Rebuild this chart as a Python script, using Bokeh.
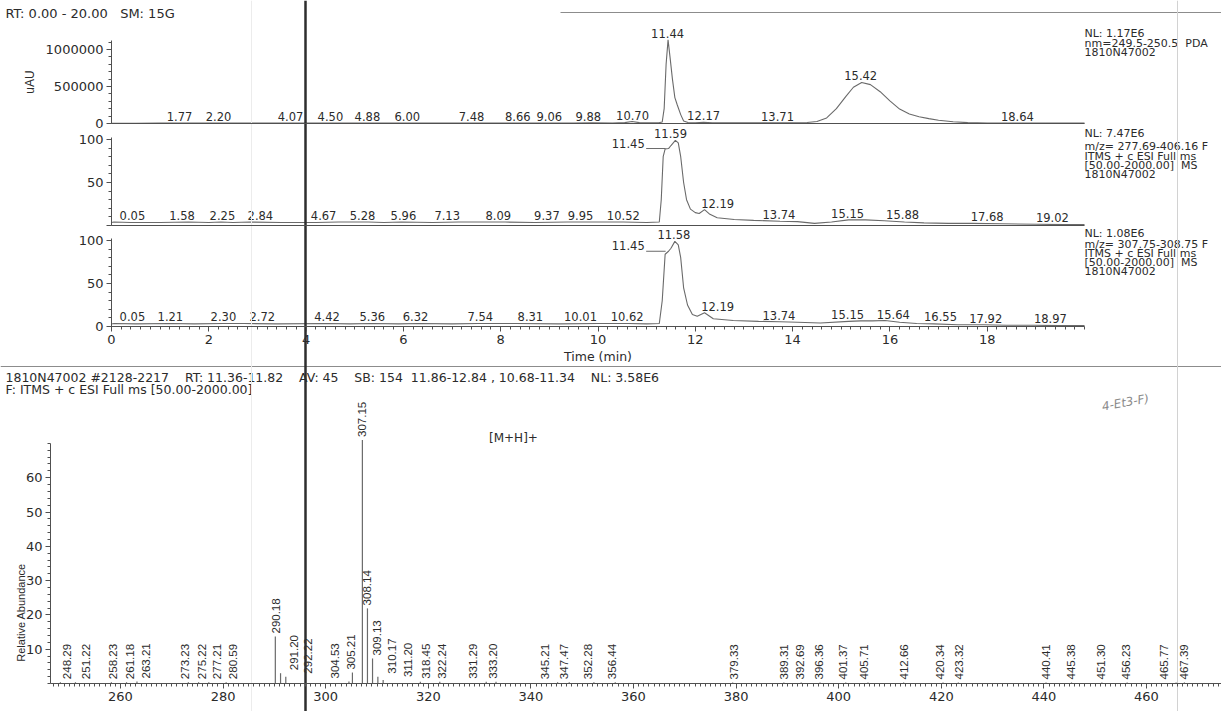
import numpy as np
from bokeh.plotting import figure
from bokeh.models import Range1d, FixedTicker, LinearAxis, ColumnDataSource
from bokeh.embed import file_html
from bokeh.resources import INLINE
from bokeh.core.properties import value

# ---------------------------------------------------------------- data
header_text = "RT: 0.00 - 20.00\u00a0\u00a0\u00a0SM: 15G"

# Panel 1 : PDA trace (uAU)
pda_t = [0.00, 0.50, 1.00, 1.50, 1.77, 2.00, 2.20, 2.60, 3.20, 3.70, 4.07, 4.30, 4.50, 4.70, 4.88,
         5.40, 6.00, 6.70, 7.48, 8.10, 8.66, 9.06, 9.50, 9.88, 10.30, 10.55, 10.70, 10.85, 11.05, 11.25,
         11.32, 11.36, 11.40, 11.44, 11.48, 11.53, 11.58, 11.63, 11.70, 11.76, 11.85, 12.00, 12.17, 12.35, 12.80,
         13.30, 13.71, 14.10, 14.30, 14.50, 14.70, 14.90, 15.10, 15.25, 15.42, 15.60, 15.80, 16.00, 16.20, 16.40,
         16.60, 16.80, 17.00, 17.30, 17.60, 18.00, 18.64, 19.20, 20.00]
pda_v = [4000, 4000, 4500, 5000, 7000, 5500, 7000, 5000, 4500, 4500, 6000, 5000, 6000, 5000, 6000,
         5000, 6000, 5000, 6000, 5500, 6500, 6500, 6000, 8000, 7000, 12000, 26000, 12000, 9000, 9000,
         20000, 200000, 800000, 1130000, 900000, 600000, 350000, 250000, 120000, 35000, 14000, 11000, 16000, 9000, 8000,
         8000, 10000, 10000, 14000, 28000, 75000, 200000, 370000, 490000, 555000, 525000, 430000, 305000, 195000, 128000,
         92000, 66000, 44000, 24000, 12000, 7000, 7000, 5000, 5000]
pda_peaks = [1.77, 2.20, 4.07, 4.50, 4.88, 6.00, 7.48, 8.66, 9.06, 9.88, 10.70, 11.44, 12.17, 13.71, 15.42, 18.64]
pda_label_at = [1.40, 2.20, 3.68, 4.50, 5.26, 6.08, 7.40, 8.35, 9.00, 9.80, 10.71, 11.43, 12.17, 13.69, 15.40, 18.62]
pda_notes = ["NL: 1.17E6", "nm=249.5-250.5\u00a0\u00a0PDA", "1810N47002"]

# Panel 2 : m/z 277.69-406.16 (relative)
tic_t = [0.00, 0.05, 0.40, 1.00, 1.58, 2.00, 2.25, 2.50, 2.84, 3.50, 4.20, 4.67, 5.28, 5.60, 5.96,
         6.60, 7.13, 8.09, 8.70, 9.37, 9.95, 10.52, 11.00, 11.26, 11.30, 11.34, 11.38, 11.45, 11.50, 11.59,
         11.65, 11.70, 11.76, 11.82, 11.90, 12.00, 12.08, 12.19, 12.30, 12.45, 12.80, 13.20, 13.74, 14.10, 14.45,
         14.80, 15.15, 15.50, 15.88, 16.30, 16.70, 17.20, 17.68, 18.30, 19.02, 19.60, 20.00]
tic_v = [3.5, 4.0, 3.5, 3.5, 4.0, 3.5, 4.0, 3.5, 4.0, 3.5, 3.5, 4.0, 4.0, 3.5, 4.0,
         3.5, 4.0, 4.0, 3.5, 4.0, 4.0, 4.0, 3.5, 4.0, 30.0, 80.0, 89.0, 89.5, 93.0, 99.0,
         96.0, 80.0, 50.0, 30.0, 19.0, 15.0, 14.0, 18.5, 13.0, 9.0, 7.0, 6.0, 5.0, 4.5, 2.5,
         4.0, 6.5, 6.5, 5.5, 4.0, 3.0, 2.5, 2.5, 2.0, 1.5, 1.0, 1.0]
tic_peaks = [0.05, 1.58, 2.25, 2.84, 4.67, 5.28, 5.96, 7.13, 8.09, 9.37, 9.95, 10.52, 11.59,
             12.19, 13.74, 15.15, 15.88, 17.68, 19.02]
tic_label_at = [0.43, 1.45, 2.28, 3.06, 4.36, 5.16, 6.00, 6.90, 7.95, 8.95, 9.64, 10.52, 11.49,
                12.46, 13.72, 15.13, 16.26, 18.00, 19.34]
tic_leader = [11.45]
tic_notes = ["NL: 7.47E6", "m/z= 277.69-406.16 F", "ITMS + c ESI Full ms",
             "[50.00-2000.00]\u00a0\u00a0MS", "1810N47002"]

# Panel 3 : m/z 307.75-308.75 (relative)
sim_t = [0.00, 0.05, 0.50, 1.21, 1.70, 2.30, 2.72, 3.40, 4.42, 4.90, 5.36, 5.90, 6.32, 7.00, 7.54,
         8.31, 9.20, 10.01, 10.62, 11.00, 11.26, 11.32, 11.38, 11.45, 11.50, 11.58, 11.65, 11.70, 11.76, 11.84,
         11.94, 12.04, 12.19, 12.37, 12.78, 13.30, 13.74, 14.10, 14.57, 15.15, 15.40, 15.64, 15.90, 16.20, 16.55,
         16.90, 17.40, 17.92, 18.40, 18.97, 19.50, 20.00]
sim_v = [3.0, 3.5, 3.0, 3.5, 3.0, 3.5, 3.5, 3.0, 3.5, 3.0, 3.5, 3.0, 3.5, 3.0, 3.5,
         3.5, 3.0, 3.5, 3.5, 3.0, 3.5, 30.0, 84.0, 87.5, 91.0, 99.0, 95.0, 80.0, 45.0, 25.0,
         14.0, 12.0, 16.0, 9.0, 7.0, 6.0, 5.5, 5.0, 4.0, 6.0, 6.5, 6.5, 7.0, 5.0, 3.5,
         3.0, 2.0, 2.0, 1.5, 1.5, 1.0, 1.0]
sim_peaks = [0.05, 1.21, 2.30, 2.72, 4.42, 5.36, 6.32, 7.54, 8.31, 10.01, 10.62, 11.58,
             12.19, 13.74, 15.15, 15.64, 16.55, 17.92, 18.97]
sim_label_at = [0.43, 1.21, 2.30, 3.10, 4.43, 5.36, 6.25, 7.58, 8.61, 9.64, 10.60, 11.56,
                12.46, 13.72, 15.13, 16.07, 17.04, 17.97, 19.30]
sim_leader = [11.45]
sim_notes = ["NL: 1.08E6", "m/z= 307.75-308.75 F", "ITMS + c ESI Full ms",
             "[50.00-2000.00]\u00a0\u00a0MS", "1810N47002"]

time_ticks = [0, 2, 4, 6, 8, 10, 12, 14, 16, 18]

# Mass spectrum
NB4 = "\u00a0" * 4
ms_header = ["1810N47002 #2128-2217" + NB4 + "RT: 11.36-11.82" + NB4 + "AV: 45" + NB4 + "SB: 154"
             + "\u00a0\u00a0" + "11.86-12.84 , 10.68-11.34" + NB4 + "NL: 3.58E6",
             "F: ITMS + c ESI Full ms [50.00-2000.00]"]
ms_mz = [248.29, 251.22, 258.23, 261.18, 263.21, 273.23, 275.22, 277.21, 280.59, 290.18, 291.20, 292.22,
         304.53, 305.21, 307.15, 308.14, 309.13, 310.17, 311.20, 318.45, 322.24, 331.29, 333.20, 345.21,
         347.47, 352.28, 356.44, 379.33, 389.31, 392.69, 396.36, 401.37, 405.71, 412.66, 420.34, 423.32,
         440.41, 445.38, 451.30, 456.23, 465.77, 467.39]
ms_int = [0.4, 0.4, 0.4, 0.4, 0.6, 0.4, 0.4, 0.4, 0.4, 13.7, 3.0, 2.0,
          0.6, 3.2, 71.0, 21.9, 7.3, 2.0, 1.0, 0.5, 0.5, 0.5, 0.5, 0.4,
          0.4, 0.4, 0.4, 0.3, 0.3, 0.3, 0.3, 0.3, 0.3, 0.3, 0.3, 0.3,
          0.3, 0.3, 0.3, 0.3, 0.3, 0.3]
ms_label_at = [249.6, 253.3, 258.5, 261.9, 265.0, 272.5, 275.8, 278.8, 282.0, 290.3, 293.8, 296.5,
               301.9, 305.0, 307.15, 308.14, 310.0, 313.0, 316.0, 319.6, 322.7, 328.8, 332.7, 342.7,
               346.5, 351.2, 355.8, 379.6, 389.3, 392.5, 396.2, 400.8, 404.9, 412.7, 419.8, 423.4,
               440.5, 445.3, 451.1, 456.0, 463.4, 467.4]
ms_annot = "[M+H]+"
ms_ylabel = "Relative Abundance"
hand_note = "4-Et3-F)"
ms_yticks = [10, 20, 30, 40, 50, 60]
ms_xticks = [260, 280, 300, 320, 340, 360, 380, 400, 420, 440, 460]

# ---------------------------------------------------------------- geometry (page px)
W, H = 1221, 711
FW = "DejaVu Sans"        # wide face: the scan is stretched horizontally
FR = "Liberation Sans"    # rotated texts
TXT = "#2b2b2b"
TRACE = "#6a6a6a"
AX = "#505050"

PXM, T_X0 = 48.65, 111            # px per minute, page x of t = 0
PXZ, MZ_X0 = 5.13, 120            # px per m/z, page x of m/z 260
P1_Y0, P1_S = 123, 74e-6          # page y of 0, px per uAU
P2_Y0, P3_Y0, PC_S = 225, 326, 0.86
MS_Y0, MS_S = 683, 3.43


def xr(x0, s, ref=0.0):
    start = ref - x0 / s
    return Range1d(start, start + W / s)


def yr(y0, s):
    return Range1d(-(H - y0) / s, y0 / s)


p = figure(width=W, height=H, x_range=Range1d(0, W), y_range=Range1d(H, 0),
           x_axis_location=None, y_axis_location=None, output_backend="svg",
           toolbar_location=None, min_border=0, title=None)
p.extra_x_ranges = {"t": xr(T_X0, PXM), "mz": xr(MZ_X0, PXZ, 260.0)}
p.extra_y_ranges = {"p1": yr(P1_Y0, P1_S), "p2": yr(P2_Y0, PC_S), "p3": yr(P3_Y0, PC_S),
                    "ms": yr(MS_Y0, MS_S)}
p.grid.visible = False
p.outline_line_color = None
p.background_fill_color = "white"
p.border_fill_color = "white"
MZ_LEFT = 260.0 - (MZ_X0 - 50) / PXZ


def axis(side, xname, yname, loc, ticks, minor, bounds, size="13px", out=5):
    ax = LinearAxis(x_range_name=xname, y_range_name=yname, fixed_location=loc,
                    ticker=FixedTicker(ticks=ticks, minor_ticks=minor), bounds=bounds)
    ax.axis_line_color = AX
    ax.major_tick_line_color = AX
    ax.minor_tick_line_color = AX
    ax.major_tick_in = 0
    ax.minor_tick_in = 0
    ax.major_tick_out = out
    ax.minor_tick_out = 3 if out else 0
    ax.major_label_standoff = 3
    ax.major_label_text_font = FW
    ax.major_label_text_font_size = size
    ax.major_label_text_color = TXT
    ax.axis_label_text_font = FR
    ax.axis_label_text_font_style = "normal"
    ax.axis_label_text_color = TXT
    p.add_layout(ax, side)
    return ax


# chromatogram axes
a = axis("left", "t", "p1", 0, [0, 500000, 1000000], list(range(0, 1100001, 100000)), (0, 1120000))
a.major_label_overrides = {0: "0", 500000: "500000", 1000000: "1000000"}
a.axis_label = "uAU"
a.axis_label_text_font_size = "12px"
a.axis_label_standoff = 6
axis("below", "t", "p1", 0, [], [], (0, 20), out=0)
a = axis("left", "t", "p2", 0, [0, 50, 100], list(range(0, 101, 10)), (0, 102))
a.major_label_overrides = {0: ""}
axis("below", "t", "p2", 0, [], [], (0, 20), out=0)
axis("left", "t", "p3", 0, [0, 50, 100], list(range(0, 101, 10)), (0, 102))
a = axis("below", "t", "p3", 0, time_ticks, [round(i * 0.2, 1) for i in range(101)], (0, 20))
a.axis_label = "Time (min)"
a.axis_label_text_font = FW
a.axis_label_text_font_size = "12.5px"
a.axis_label_standoff = 2

# mass-spectrum axes
axis("below", "mz", "ms", 0, ms_xticks, list(range(247, 475)), (MZ_LEFT, 474.6))
axis("left", "mz", "ms", MZ_LEFT, ms_yticks, list(range(0, 71, 2)), (0, 70))


def draw_trace(yname, t, v, peaks, label_at, leader):
    p.line(t, v, line_color=TRACE, line_width=1.1, x_range_name="t", y_range_name=yname)
    ly = list(np.interp(peaks, t, v))
    src = ColumnDataSource(dict(x=label_at, y=ly, text=["%.2f" % x for x in peaks]))
    p.text(x="x", y="y", text="text", source=src, text_font=value(FW), text_font_size="11.5px",
           text_align="center", text_baseline="bottom", y_offset=-2, text_color=TXT,
           x_range_name="t", y_range_name=yname)
    if leader:
        lv = list(np.interp(leader, t, v))
        p.segment(x0=[x - 0.46 for x in leader], y0=lv, x1=[x - 0.06 for x in leader], y1=lv,
                  line_color=TRACE, line_width=1, x_range_name="t", y_range_name=yname)
        p.text(x=[x - 0.49 for x in leader], y=lv, text=["%.2f" % x for x in leader],
               text_font=value(FW), text_font_size="11.5px", text_align="right",
               text_baseline="bottom", y_offset=-1, text_color=TXT,
               x_range_name="t", y_range_name=yname)


def notes(lines, ys, x=1084):
    p.text(x=[x] * len(lines), y=ys, text=lines, text_font=value(FW), text_font_size="11px",
           text_align="left", text_baseline="middle", text_color=TXT)


draw_trace("p1", pda_t, pda_v, pda_peaks, pda_label_at, [])
draw_trace("p2", tic_t, tic_v, tic_peaks, tic_label_at, tic_leader)
draw_trace("p3", sim_t, sim_v, sim_peaks, sim_label_at, sim_leader)
notes(pda_notes, [33, 43, 52])
notes(tic_notes, [133, 146, 156, 165, 174])
notes(sim_notes, [233, 244, 253, 262, 271])

p.text(x=[5], y=[13], text=[header_text], text_font=value(FW), text_font_size="13px",
       text_align="left", text_baseline="middle", text_color=TXT)
p.text(x=[5, 5], y=[377, 389], text=ms_header, text_font=value(FW), text_font_size="12.5px",
       text_align="left", text_baseline="middle", text_color=TXT)

# mass spectrum sticks and labels
msrc = ColumnDataSource(dict(x=ms_mz, y=ms_int, y0=[0] * len(ms_mz), lx=ms_label_at,
                             text=["%.2f" % m for m in ms_mz]))
p.segment(x0="x", y0="y0", x1="x", y1="y", source=msrc, line_color=TRACE, line_width=1.2,
          x_range_name="mz", y_range_name="ms")
p.text(x="lx", y="y", text="text", source=msrc, angle=np.pi / 2, text_align="left",
       text_baseline="middle", y_offset=-3, text_font=value(FR), text_font_size="11.5px",
       text_color=TXT, x_range_name="mz", y_range_name="ms")
p.text(x=[336.6], y=[71.7], text=[ms_annot], text_font=value(FW), text_font_size="12px",
       text_align="center", text_baseline="middle", text_color=TXT,
       x_range_name="mz", y_range_name="ms")
p.text(x=[20], y=[612], text=[ms_ylabel], angle=np.pi / 2, text_font=value(FR),
       text_font_size="11px", text_align="center", text_baseline="middle", text_color=TXT)
p.text(x=[1125], y=[402], text=[hand_note], angle=0.18, text_font=value(FW),
       text_font_style="italic", text_font_size="12px", text_align="center",
       text_baseline="middle", text_color="#8a8a8a")

# page rules and scan marks
p.segment(x0=[0, 560], y0=[366, 12], x1=[W, W], y1=[366, 12], line_color="#8c8c8c", line_width=1)
p.segment(x0=[251, 1177], y0=[0, 0], x1=[251, 1177], y1=[H, H], line_color=["#ececec", "#d2d2d2"],
          line_width=1)
p.segment(x0=[305], y0=[0], x1=[305], y1=[H], line_color="#2e2e2e", line_width=2.5)

open("out.html", "w").write(file_html(p, INLINE))
